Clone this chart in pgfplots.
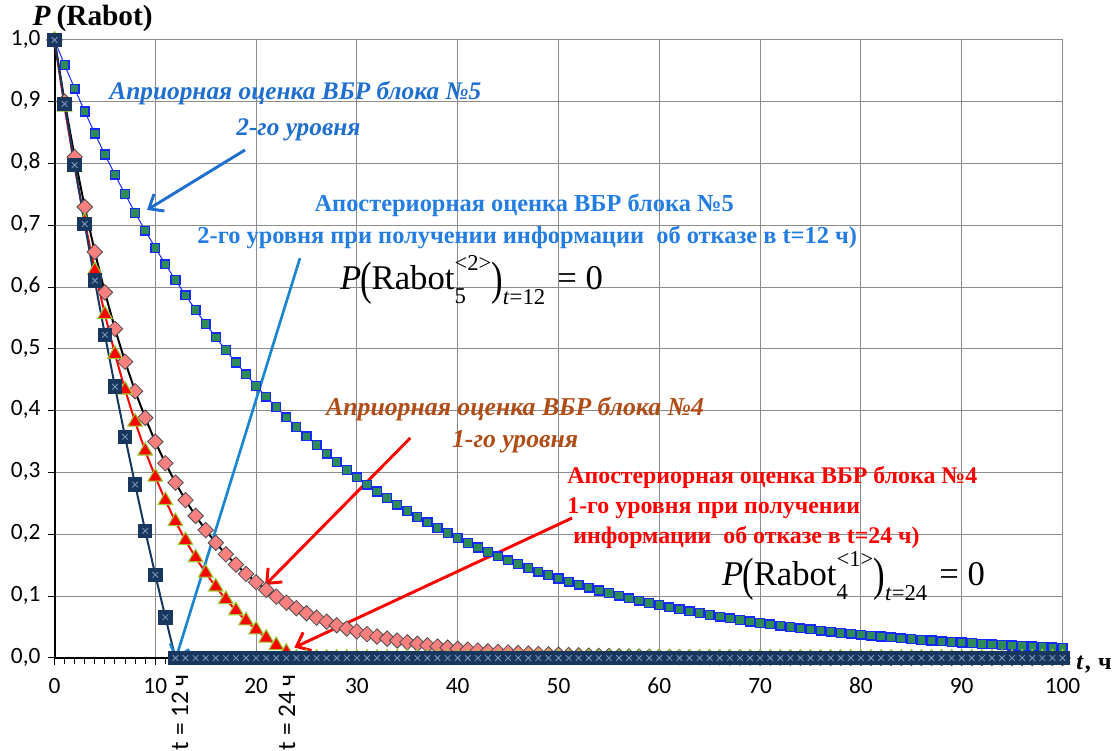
\documentclass[border=0pt]{standalone}
\usepackage{pgfplots}
\usepackage{pgfplotstable}
\pgfplotsset{compat=1.18}
\usepackage{graphicx}
\usepackage{fontspec}
\setmainfont{Liberation Serif}
\newfontfamily\calibri{Carlito}
\usetikzlibrary{arrows.meta}

\definecolor{navyS}{RGB}{23,55,94}
\definecolor{xmk}{RGB}{130,150,190}
\definecolor{pinkS}{RGB}{250,128,128}
\definecolor{ygreen}{RGB}{154,205,50}
\definecolor{blueL}{RGB}{20,40,255}
\definecolor{greenF}{RGB}{46,139,87}
\definecolor{txtblue}{RGB}{31,111,208}
\definecolor{txtblue2}{RGB}{36,125,225}
\definecolor{arrblue}{RGB}{26,134,208}
\definecolor{brownT}{RGB}{176,76,22}
\definecolor{gridgray}{RGB}{140,140,140}

\pgfplotstableread[row sep=\\]{x y\\
0 1.0000\\ 1 0.9598\\ 2 0.9213\\ 3 0.8843\\ 4 0.8487\\ 5 0.8146\\ 6 0.7819\\ 7 0.7505\\ 8 0.7204\\ 9 0.6914\\
10 0.6637\\ 11 0.6370\\ 12 0.6114\\ 13 0.5868\\ 14 0.5633\\ 15 0.5406\\ 16 0.5189\\ 17 0.4981\\ 18 0.4781\\ 19 0.4589\\
20 0.4404\\ 21 0.4227\\ 22 0.4058\\ 23 0.3895\\ 24 0.3738\\ 25 0.3588\\ 26 0.3444\\ 27 0.3305\\ 28 0.3173\\ 29 0.3045\\
30 0.2923\\ 31 0.2805\\ 32 0.2693\\ 33 0.2585\\ 34 0.2481\\ 35 0.2381\\ 36 0.2285\\ 37 0.2194\\ 38 0.2106\\ 39 0.2021\\
40 0.1940\\ 41 0.1862\\ 42 0.1787\\ 43 0.1715\\ 44 0.1646\\ 45 0.1580\\ 46 0.1517\\ 47 0.1456\\ 48 0.1397\\ 49 0.1341\\
50 0.1287\\ 51 0.1236\\ 52 0.1186\\ 53 0.1138\\ 54 0.1093\\ 55 0.1049\\ 56 0.1007\\ 57 0.0966\\ 58 0.0927\\ 59 0.0890\\
60 0.0854\\ 61 0.0820\\ 62 0.0787\\ 63 0.0755\\ 64 0.0725\\ 65 0.0696\\ 66 0.0668\\ 67 0.0641\\ 68 0.0615\\ 69 0.0591\\
70 0.0567\\ 71 0.0544\\ 72 0.0522\\ 73 0.0501\\ 74 0.0481\\ 75 0.0462\\ 76 0.0443\\ 77 0.0426\\ 78 0.0408\\ 79 0.0392\\
80 0.0376\\ 81 0.0361\\ 82 0.0347\\ 83 0.0333\\ 84 0.0319\\ 85 0.0307\\ 86 0.0294\\ 87 0.0282\\ 88 0.0271\\ 89 0.0260\\
90 0.0250\\ 91 0.0240\\ 92 0.0230\\ 93 0.0221\\ 94 0.0212\\ 95 0.0203\\ 96 0.0195\\ 97 0.0187\\ 98 0.0180\\ 99 0.0173\\
100 0.0166\\
}\blueTbl

\pgfplotstableread[row sep=\\]{x y\\
0 1.0000\\ 1 0.9003\\ 2 0.8106\\ 3 0.7298\\ 4 0.6570\\ 5 0.5916\\ 6 0.5326\\ 7 0.4795\\ 8 0.4317\\ 9 0.3887\\
10 0.3499\\ 11 0.3151\\ 12 0.2837\\ 13 0.2554\\ 14 0.2299\\ 15 0.2070\\ 16 0.1864\\ 17 0.1678\\ 18 0.1511\\ 19 0.1360\\
20 0.1225\\ 21 0.1103\\ 22 0.0993\\ 23 0.0894\\ 24 0.0805\\ 25 0.0724\\ 26 0.0652\\ 27 0.0587\\ 28 0.0529\\ 29 0.0476\\
30 0.0429\\ 31 0.0386\\ 32 0.0347\\ 33 0.0313\\ 34 0.0282\\ 35 0.0254\\ 36 0.0228\\ 37 0.0205\\ 38 0.0185\\ 39 0.0167\\
40 0.0150\\ 41 0.0135\\ 42 0.0122\\ 43 0.0109\\ 44 0.0099\\ 45 0.0089\\ 46 0.0080\\ 47 0.0072\\ 48 0.0065\\ 49 0.0058\\
50 0.0052\\ 51 0.0047\\ 52 0.0043\\ 53 0.0038\\ 54 0.0034\\ 55 0.0031\\ 56 0.0028\\ 57 0.0025\\ 58 0.0023\\ 59 0.0020\\
60 0.0018\\ 61 0.0017\\ 62 0.0015\\ 63 0.0013\\ 64 0.0012\\ 65 0.0011\\ 66 0.0010\\ 67 0.0009\\ 68 0.0008\\ 69 0.0007\\
70 0.0006\\ 71 0.0006\\ 72 0.0005\\ 73 0.0005\\ 74 0.0004\\ 75 0.0004\\ 76 0.0003\\ 77 0.0003\\ 78 0.0003\\ 79 0.0002\\
80 0.0002\\ 81 0.0002\\ 82 0.0002\\ 83 0.0002\\ 84 0.0001\\ 85 0.0001\\ 86 0.0001\\ 87 0.0001\\ 88 0.0001\\ 89 0.0001\\
90 0.0001\\ 91 0.0001\\ 92 0.0001\\ 93 0.0001\\ 94 0.0001\\ 95 0.0001\\ 96 0.0000\\ 97 0.0000\\ 98 0.0000\\ 99 0.0000\\
100 0.0000\\
}\pinkTbl

\pgfplotstableread[row sep=\\]{x y\\
0 1.0000\\ 1 0.8916\\ 2 0.7940\\ 3 0.7062\\ 4 0.6270\\ 5 0.5559\\ 6 0.4917\\ 7 0.4339\\ 8 0.3820\\ 9 0.3352\\
10 0.2930\\ 11 0.2551\\ 12 0.2210\\ 13 0.1902\\ 14 0.1625\\ 15 0.1376\\ 16 0.1152\\ 17 0.0949\\ 18 0.0768\\ 19 0.0604\\
20 0.0457\\ 21 0.0324\\ 22 0.0204\\ 23 0.0097\\ 24 0\\ 25 0\\ 26 0\\ 27 0\\ 28 0\\ 29 0\\
30 0\\ 31 0\\ 32 0\\ 33 0\\ 34 0\\ 35 0\\ 36 0\\ 37 0\\ 38 0\\ 39 0\\
40 0\\ 41 0\\ 42 0\\ 43 0\\ 44 0\\ 45 0\\ 46 0\\ 47 0\\ 48 0\\ 49 0\\
50 0\\ 51 0\\ 52 0\\ 53 0\\ 54 0\\ 55 0\\ 56 0\\ 57 0\\ 58 0\\ 59 0\\
60 0\\ 61 0\\ 62 0\\ 63 0\\ 64 0\\ 65 0\\ 66 0\\ 67 0\\ 68 0\\ 69 0\\
70 0\\ 71 0\\ 72 0\\ 73 0\\ 74 0\\ 75 0\\ 76 0\\ 77 0\\ 78 0\\ 79 0\\
80 0\\ 81 0\\ 82 0\\ 83 0\\ 84 0\\ 85 0\\ 86 0\\ 87 0\\ 88 0\\ 89 0\\
90 0\\ 91 0\\ 92 0\\ 93 0\\ 94 0\\ 95 0\\ 96 0\\ 97 0\\ 98 0\\ 99 0\\
100 0\\
}\redTbl

\pgfplotstableread[row sep=\\]{x y\\
0 1.0000\\ 1 0.8966\\ 2 0.7975\\ 3 0.7023\\ 4 0.6106\\ 5 0.5229\\ 6 0.4389\\ 7 0.3579\\ 8 0.2806\\ 9 0.2058\\
10 0.1346\\ 11 0.0659\\ 12 0\\ 13 0\\ 14 0\\ 15 0\\ 16 0\\ 17 0\\ 18 0\\ 19 0\\
20 0\\ 21 0\\ 22 0\\ 23 0\\ 24 0\\ 25 0\\ 26 0\\ 27 0\\ 28 0\\ 29 0\\
30 0\\ 31 0\\ 32 0\\ 33 0\\ 34 0\\ 35 0\\ 36 0\\ 37 0\\ 38 0\\ 39 0\\
40 0\\ 41 0\\ 42 0\\ 43 0\\ 44 0\\ 45 0\\ 46 0\\ 47 0\\ 48 0\\ 49 0\\
50 0\\ 51 0\\ 52 0\\ 53 0\\ 54 0\\ 55 0\\ 56 0\\ 57 0\\ 58 0\\ 59 0\\
60 0\\ 61 0\\ 62 0\\ 63 0\\ 64 0\\ 65 0\\ 66 0\\ 67 0\\ 68 0\\ 69 0\\
70 0\\ 71 0\\ 72 0\\ 73 0\\ 74 0\\ 75 0\\ 76 0\\ 77 0\\ 78 0\\ 79 0\\
80 0\\ 81 0\\ 82 0\\ 83 0\\ 84 0\\ 85 0\\ 86 0\\ 87 0\\ 88 0\\ 89 0\\
90 0\\ 91 0\\ 92 0\\ 93 0\\ 94 0\\ 95 0\\ 96 0\\ 97 0\\ 98 0\\ 99 0\\
100 0\\
}\navyTbl

\newcommand{\Pform}[3]{{\fontsize{26}{30}\selectfont\textit{P}\kern-0.03em\raisebox{-0.12em}{\scalebox{1}[1.35]{(}}Rabot\rlap{\raisebox{-0.38em}{\fontsize{17}{17}\selectfont #1}}\raisebox{0.55em}{\fontsize{17}{17}\selectfont <#2>}\raisebox{-0.12em}{\scalebox{1}[1.35]{)}}\raisebox{-0.42em}{\fontsize{17}{17}\selectfont\textit{t}=#3}\hspace{0.35em}=\hspace{0.25em}0}}

\begin{document}
\begin{tikzpicture}
\begin{axis}[
  scale only axis, width=756pt, height=463.5pt,
  xmin=0, xmax=100, ymin=0, ymax=1,
  axis x line=bottom, axis y line=left,
  axis line style={-, black, line width=1.5pt},
  xtick={0,10,20,30,40,50,60,70,80,90,100},
  ytick={0,0.1,0.2,0.3,0.4,0.5,0.6,0.7,0.8,0.9,1.0},
  minor x tick num=9,
  grid=major, major grid style={gridgray, line width=0.75pt},
  tick align=outside, major tick length=5pt, minor tick length=4.5pt,
  every tick/.style={black, line width=0.75pt},
  yticklabel style={xshift=-2pt, /pgf/number format/.cd, fixed, fixed zerofill, precision=1, use comma},
  /pgf/number format/assume math mode=true,
  typeset ticklabels with strut,
  ticklabel style={font=\calibri\fontsize{17.5}{19}\selectfont},
  xticklabel style={yshift=-5pt},
  clip=false,
]
\addplot[blueL, line width=0.75pt, mark=square*, mark size=3.3pt, mark options={draw=blueL, fill=greenF, line width=1pt}] table {\blueTbl};
\addplot[black, line width=1.5pt, mark=square*, mark size=4.1pt, mark options={draw=black!70, fill=pinkS, rotate=45, line width=0.6pt}] table {\pinkTbl};
\addplot[red, line width=1.5pt, mark=triangle*, mark size=6.3pt, mark options={draw=ygreen, fill=red, line width=0.8pt}] table {\redTbl};
\addplot[navyS, line width=1.5pt, mark=square*, mark size=4.7pt, mark options={draw=navyS, fill=navyS}] table {\navyTbl};
\addplot[only marks, mark=x, mark size=3pt, mark options={draw=xmk, line width=0.6pt}] table {\navyTbl};

\coordinate (BL) at (axis cs:-5.407,-0.1505);
\coordinate (TR) at (axis cs:105.506,1.0647);

% axis labels
\node[anchor=base west, inner sep=0pt, font=\bfseries\fontsize{22}{24}\selectfont] at (axis cs:-2.2,1.023) {\textit{P}\hspace{0.2em}(Rabot)};
\node[anchor=base west, inner sep=0pt, font=\bfseries\fontsize{18}{20}\selectfont] at (axis cs:101.35,-0.019) {\textit{t}\hspace{0.05em},\hspace{0.3em}ч};

% rotated markers
\node[rotate=90, anchor=east, inner sep=0pt, font=\calibri\fontsize{19}{21}\selectfont] at (axis cs:12.45,-0.026) {t = 12 ч};
\node[rotate=90, anchor=east, inner sep=0pt, font=\calibri\fontsize{19}{21}\selectfont] at (axis cs:23.07,-0.026) {t = 24 ч};

% annotations
\node[anchor=base, inner sep=0pt, txtblue, font=\bfseries\itshape\fontsize{19}{21}\selectfont] at (axis cs:23.9,0.903) {Априорная оценка ВБР блока №5};
\node[anchor=base, inner sep=0pt, txtblue, font=\bfseries\itshape\fontsize{19}{21}\selectfont] at (axis cs:24.2,0.845) {2-го уровня};
\draw[txtblue, line width=2.2pt, -{Straight Barb[length=9pt,width=15pt]}] (axis cs:18.9,0.822) -- (axis cs:9.18,0.725);

\node[anchor=base, inner sep=0pt, txtblue2, font=\bfseries\fontsize{18.3}{20}\selectfont] at (axis cs:46.6,0.722) {Апостериорная оценка ВБР блока №5};
\node[anchor=base, inner sep=0pt, txtblue2, font=\bfseries\fontsize{18.3}{20}\selectfont] at (axis cs:46.9,0.670) {2-го уровня при получении информации\ \ об отказе в t=12 ч)};
\draw[arrblue, line width=2pt, -{Straight Barb[length=9pt,width=15pt]}] (axis cs:24.35,0.647) -- (axis cs:12.0,-0.003);

\node[anchor=base west, inner sep=0pt] at (axis cs:28.3,0.5955) {\Pform{5}{2}{12}};

\node[anchor=base, inner sep=0pt, brownT, font=\bfseries\itshape\fontsize{19.3}{21}\selectfont] at (axis cs:45.7,0.392) {Априорная оценка ВБР блока №4};
\node[anchor=base, inner sep=0pt, brownT, font=\bfseries\itshape\fontsize{19.3}{21}\selectfont] at (axis cs:45.7,0.340) {1-го уровня};
\draw[red, line width=2.2pt, -{Straight Barb[length=9pt,width=15pt]}] (axis cs:35.3,0.356) -- (axis cs:20.9,0.118);

\node[anchor=base west, inner sep=0pt, red, font=\bfseries\fontsize{17.9}{20}\selectfont] at (axis cs:50.85,0.2816) {Апостериорная оценка ВБР блока №4};
\node[anchor=base west, inner sep=0pt, red, font=\bfseries\fontsize{17.9}{20}\selectfont] at (axis cs:50.85,0.233) {1-го уровня при получении};
\node[anchor=base west, inner sep=0pt, red, font=\bfseries\fontsize{17.9}{20}\selectfont] at (axis cs:50.85,0.1845) {\hspace{0.25em}информации\ \ об отказе в t=24 ч)};
\draw[red, line width=2.2pt, -{Straight Barb[length=9pt,width=15pt]}] (axis cs:51.35,0.2265) -- (axis cs:23.8,0.017);

\node[anchor=base west, inner sep=0pt] at (axis cs:66.2,0.1165) {\Pform{4}{1}{24}};
\end{axis}
\pgfresetboundingbox
\path[use as bounding box] (BL) rectangle (TR);
\end{tikzpicture}
\end{document}
